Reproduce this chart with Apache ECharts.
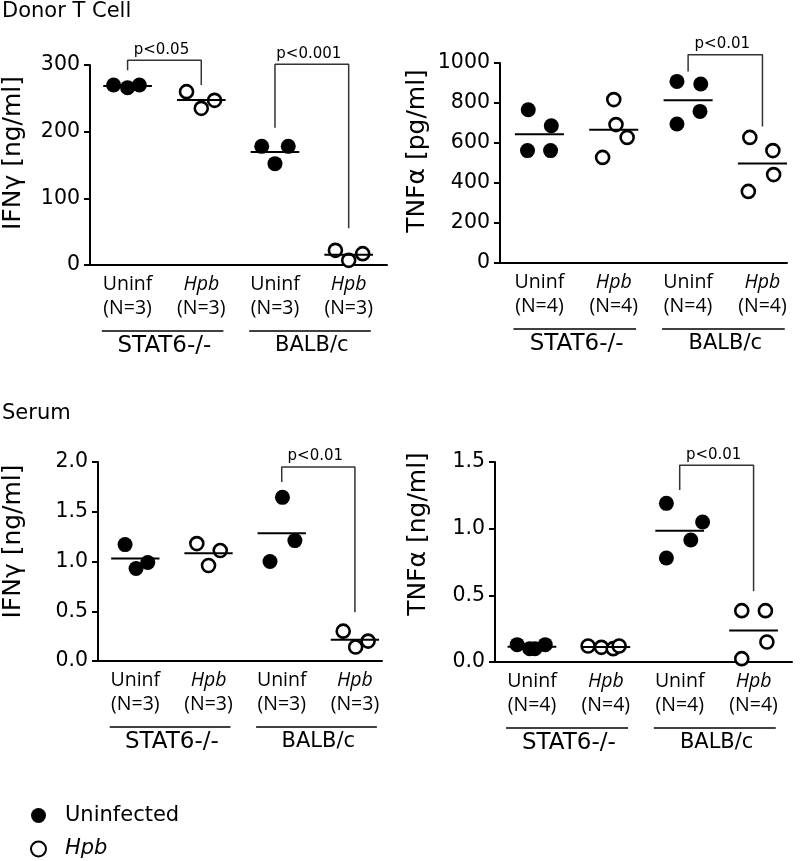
<!DOCTYPE html>
<html><head><meta charset="utf-8">
<script src="https://cdn.jsdelivr.net/npm/echarts@6/dist/echarts.min.js"></script>
<style>html,body{margin:0;padding:0;background:#fff}#c{width:800px;height:861px}</style>
</head><body><div id="c"></div>
<script>
// ---------- data ----------
const categories = ['Uninf', 'Hpb', 'Uninf', 'Hpb'];
const groupNames = ['STAT6-/-', 'BALB/c'];
const sectionTitles = ['Donor T Cell', 'Serum'];
const yAxisNames = ['IFNγ [ng/ml]', 'TNFα [pg/ml]', 'IFNγ [ng/ml]', 'TNFα [ng/ml]'];
const sampleSizes = [3, 4, 3, 4];
const yMax = [300, 1000, 2, 1.5];
const yStep = [100, 200, 0.5, 0.5];
const legendNames = ['Uninfected', 'Hpb'];

// values per group: [Uninf STAT6-/-, Hpb STAT6-/-, Uninf BALB/c, Hpb BALB/c]
const donorIfng = [[270, 266, 270], [260, 235, 247], [178, 152, 178], [22, 7, 17]];
const donorTnfa = [[766, 686, 562, 562], [817, 692, 628, 528], [908, 895, 758, 695], [628, 562, 442, 358]];
const serumIfng = [[1.17, 0.93, 0.99], [1.18, 0.96, 1.11], [1.0, 1.645, 1.21], [0.30, 0.14, 0.20]];
const serumTnfa = [[0.13, 0.10, 0.10, 0.13], [0.12, 0.11, 0.10, 0.12], [1.19, 1.05, 0.915, 0.78], [0.385, 0.385, 0.15, 0.025]];

// horizontal scatter of each point inside its group (category units)
const donorIfngJitter = [[-0.19, 0, 0.16], [-0.2, 0, 0.18], [-0.18, 0, 0.18], [-0.18, 0, 0.19]];
const donorTnfaJitter = [[-0.15, 0.16, -0.16, 0.15], [0, 0.03, 0.18, -0.15], [-0.15, 0.17, 0.16, -0.15], [-0.17, 0.14, 0.15, -0.19]];
const serumIfngJitter = [[-0.14, 0.01, 0.17], [-0.16, 0, 0.16], [-0.16, 0.01, 0.18], [-0.16, 0.01, 0.18]];
const serumTnfaJitter = [[-0.2, -0.03, 0.04, 0.18], [-0.24, -0.06, 0.1, 0.18], [-0.18, 0.31, 0.15, -0.18], [-0.16, 0.16, 0.18, -0.16]];

// significance brackets: [fromGroup, toGroup, leftLegEnd, top, rightLegEnd, label]
const donorIfngBrackets = [[0, 1, 292, 307, 270, 'p<0.05'], [2, 3, 206, 301, 55, 'p<0.001']];
const donorTnfaBrackets = [[2, 3, 958, 1041, 683, 'p<0.01']];
const serumIfngBrackets = [[2, 3, 1.80, 1.95, 0.49, 'p<0.01']];
const serumTnfaBrackets = [[2, 3, 1.29, 1.475, 0.53, 'p<0.01']];

// ---------- layout ----------
const panels = [
  {values: donorIfng, jitter: donorIfngJitter, brackets: donorIfngBrackets},
  {values: donorTnfa, jitter: donorTnfaJitter, brackets: donorTnfaBrackets},
  {values: serumIfng, jitter: serumIfngJitter, brackets: serumIfngBrackets},
  {values: serumTnfa, jitter: serumTnfaJitter, brackets: serumTnfaBrackets}
];
const grids = [
  {left: 89, top: 65, width: 298, height: 200},
  {left: 500, top: 63, width: 287, height: 200},
  {left: 95, top: 462, width: 287, height: 199},
  {left: 495, top: 462, width: 297, height: 200}
];
const xRange = [[-0.51, 3.52], [-0.53, 3.33], [-0.51, 3.37], [-0.5, 3.52]];
const nameGaps = [64, 70, 72, 64];
const namePad = [24, 24, 40, 56];
const FONT = 'DejaVu Sans';
const CAT_FONT = 'Open Sans';
const MEAN_HALF = 0.33;

const chart = echarts.init(document.getElementById('c'), null, {renderer: 'canvas'});

const xAxes = [], yAxes = [], series = [];
panels.forEach((pn, p) => {
  xAxes.push({
    type: 'value', gridIndex: p, min: xRange[p][0], max: xRange[p][1],
    axisLine: {show: true, onZero: false, lineStyle: {color: '#000', width: 2}},
    axisTick: {show: false}, splitLine: {show: false},
    axisLabel: {
      customValues: [0, 1, 2, 3], margin: 7, lineHeight: 24,
      formatter: v => {
        const name = categories[Math.round(v)];
        return (name === 'Hpb' ? '{i|' + name + '}' : '{u|' + name + '}') + '\n{n|(N=' + sampleSizes[p] + ')}';
      },
      rich: {
        u: {fontFamily: CAT_FONT, fontSize: 19.5, color: '#000', lineHeight: 24},
        i: {fontFamily: CAT_FONT, fontSize: 19.5, fontStyle: 'italic', color: '#000', lineHeight: 24},
        n: {fontFamily: CAT_FONT, fontSize: 19.5, color: '#000', lineHeight: 24}
      }
    }
  });
  yAxes.push({
    type: 'value', gridIndex: p, min: 0, max: yMax[p], interval: yStep[p],
    name: yAxisNames[p], nameLocation: 'middle', nameGap: nameGaps[p], nameRotate: 90,
    nameTextStyle: {fontFamily: FONT, fontSize: 25, color: '#000', padding: [0, 0, 0, namePad[p]]},
    axisLine: {show: true, onZero: false, lineStyle: {color: '#000', width: 2}},
    axisTick: {show: true, length: 6, lineStyle: {color: '#000', width: 2}},
    splitLine: {show: false},
    axisLabel: {
      margin: 10, fontFamily: FONT, fontSize: 20.5, color: '#000',
      formatter: v => (yStep[p] < 1 ? v.toFixed(1) : String(v))
    }
  });
  const pts = [[], []];
  pn.values.forEach((grp, g) => {
    grp.forEach((val, k) => pts[g % 2].push([g + pn.jitter[g][k], val]));
  });
  series.push({
    name: legendNames[0], type: 'scatter', xAxisIndex: p, yAxisIndex: p,
    symbol: 'circle', symbolSize: 15, data: pts[0], z: 3,
    itemStyle: {color: '#000', opacity: 1}
  });
  series.push({
    name: legendNames[1], type: 'scatter', xAxisIndex: p, yAxisIndex: p,
    symbol: 'circle', symbolSize: 13, data: pts[1], z: 3,
    itemStyle: {color: '#fff', borderColor: '#000', borderWidth: 2.6, opacity: 1}
  });
  pn.values.forEach((grp, g) => {
    const mean = grp.reduce((a, b) => a + b, 0) / grp.length;
    series.push({
      name: 'mean', type: 'line', xAxisIndex: p, yAxisIndex: p, symbol: 'none', z: 4,
      lineStyle: {color: '#000', width: 2}, data: [[g - MEAN_HALF, mean], [g + MEAN_HALF, mean]]
    });
  });
  pn.brackets.forEach(b => {
    series.push({
      name: 'bracket', type: 'line', xAxisIndex: p, yAxisIndex: p, symbol: 'none', clip: false, z: 2,
      lineStyle: {color: '#333', width: 1.5},
      data: [[b[0], b[2]], [b[0], b[3]], [b[1], b[3]], [b[1], b[4]]]
    });
  });
});

chart.setOption({
  animation: false,
  backgroundColor: '#fff',
  textStyle: {fontFamily: FONT},
  title: [
    {text: sectionTitles[0], left: 2, top: 1, padding: 0, textStyle: {fontFamily: FONT, fontSize: 21, fontWeight: 'normal', color: '#000'}},
    {text: sectionTitles[1], left: 2, top: 403, padding: 0, textStyle: {fontFamily: FONT, fontSize: 21, fontWeight: 'normal', color: '#000'}}
  ],
  legend: {
    data: legendNames, orient: 'vertical', left: 30, top: 805, padding: 0,
    itemWidth: 15, itemHeight: 15, itemGap: 12.5, selectedMode: false,
    formatter: n => (n === 'Hpb' ? '{i|' + n + '}' : '{u|' + n + '}'),
    textStyle: {
      rich: {
        u: {fontFamily: FONT, fontSize: 21, lineHeight: 20, color: '#000', padding: [0, 0, 0, 14]},
        i: {fontFamily: FONT, fontSize: 21, lineHeight: 20, fontStyle: 'italic', color: '#000', padding: [0, 0, 0, 14]}
      }
    }
  },
  grid: grids.map(g => Object.assign({containLabel: false}, g)),
  xAxis: xAxes,
  yAxis: yAxes,
  series: series
});

// group underlines, group names and p-value labels positioned through the axes
const groupSpans = [[-0.35, 1.3], [1.65, 3.3]];
const graphics = [];
panels.forEach((pn, p) => {
  const toPx = (x, y) => chart.convertToPixel({xAxisIndex: p, yAxisIndex: p}, [x, y]);
  const baseY = toPx(0, 0)[1];
  groupSpans.forEach((s, gi) => {
    const a = toPx(s[0], 0), b = toPx(s[1], 0);
    const ly = baseY + 66;
    graphics.push({type: 'line', shape: {x1: a[0], y1: ly, x2: b[0], y2: ly}, style: {stroke: '#000', lineWidth: 1.5}});
    const c = toPx(gi * 2 + 0.5, 0);
    graphics.push({type: 'text', x: c[0], y: ly + 15, style: {
      text: groupNames[gi], fontFamily: FONT, fontSize: gi === 0 ? 23 : 21, fill: '#000', align: 'center', verticalAlign: 'middle'}});
  });
  pn.brackets.forEach(b => {
    const m = toPx((b[0] + b[1]) / 2, b[3]);
    graphics.push({type: 'text', x: m[0] - 3, y: m[1] - 3, style: {
      text: b[5], fontFamily: FONT, fontSize: 15, fill: '#000', align: 'center', verticalAlign: 'bottom'}});
  });
});
chart.setOption({graphic: graphics});
</script>
</body></html>
